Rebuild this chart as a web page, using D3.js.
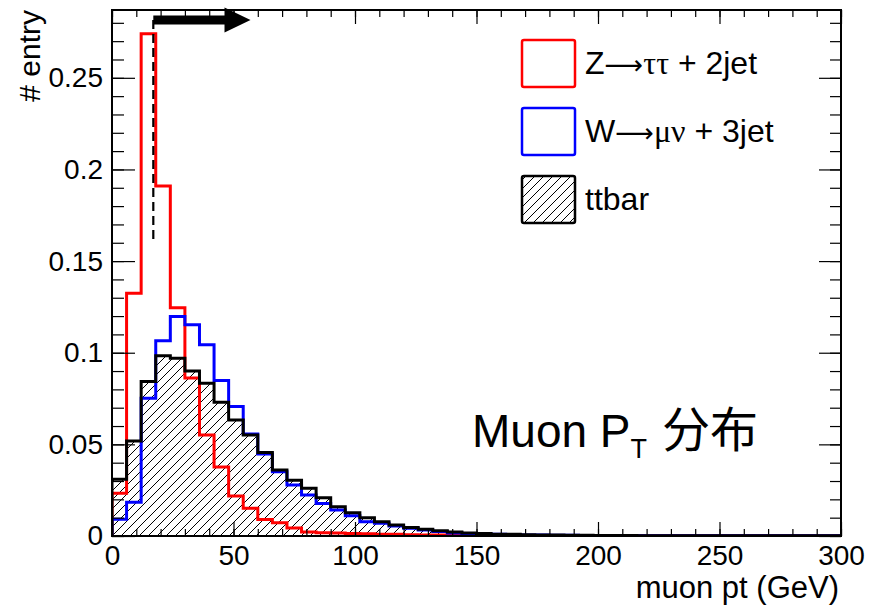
<!DOCTYPE html>
<html>
<head>
<meta charset="utf-8">
<script src="https://cdn.jsdelivr.net/npm/d3@7"></script>
<style>
  html, body { margin: 0; padding: 0; background: #fff; }
  svg { display: block; }
  text { font-family: "Liberation Sans", Arial, Helvetica, sans-serif; fill: #000; }
</style>
</head>
<body>
<svg id="chart" width="870" height="605"></svg>
<script>
// ---------- data ----------
const binWidth = 6;               // GeV
const xDomain = [0, 300];
const yDomain = [0, 0.287];
const xMajorTicks = [0, 50, 100, 150, 200, 250, 300];
const yMajorTicks = [0, 0.05, 0.1, 0.15, 0.2, 0.25];

const seriesNames = ["Z\u2192\u03c4\u03c4 + 2jet", "W\u2192\u03bc\u03bd + 3jet", "ttbar"];

const zTauTau = [0.0233, 0.1325, 0.274, 0.191, 0.1246, 0.0862, 0.0551, 0.0377, 0.0218, 0.0152,
  0.0090, 0.0072, 0.0043, 0.0022, 0.0018, 0.0016, 0.0014, 0.0012, 0.0010, 0.0009,
  0.0007, 0.0006, 0.0005, 0.0005, 0.0004, 0.0003, 0.0003, 0.0003, 0.0002, 0.0002,
  0.0002, 0.0002, 0.0001, 0.0001, 0.0001, 0.0001, 0.0001, 0.0001, 0.0001, 0.0001,
  0.0001, 0.0001, 0.0001, 0.0001, 0.0001, 0.0001, 0.0001, 0.0001, 0.0001, 0.0001];

const wMuNu = [0.0091, 0.0184, 0.0752, 0.1066, 0.1197, 0.1152, 0.1043, 0.0848, 0.0706, 0.0557,
  0.0448, 0.0351, 0.0278, 0.0224, 0.0178, 0.0142, 0.0110, 0.0078, 0.0069, 0.0055,
  0.0042, 0.0033, 0.0025, 0.0016, 0.0013, 0.0011, 0.0009, 0.0007, 0.0006, 0.0005,
  0.0004, 0.0004, 0.0003, 0.0003, 0.0003, 0.0002, 0.0002, 0.0002, 0.0002, 0.0002,
  0.0001, 0.0001, 0.0001, 0.0001, 0.0001, 0.0001, 0.0001, 0.0001, 0.0001, 0.0001];

const ttbar = [0.0310, 0.0519, 0.0843, 0.0983, 0.0970, 0.0900, 0.0833, 0.0730, 0.0633, 0.0551,
  0.0455, 0.0360, 0.0304, 0.0260, 0.0209, 0.0160, 0.0127, 0.0100, 0.0078, 0.0060,
  0.0047, 0.0037, 0.0029, 0.0022, 0.0016, 0.0013, 0.0010, 0.0009, 0.0007, 0.0006,
  0.0005, 0.0004, 0.0004, 0.0003, 0.0003, 0.0003, 0.0002, 0.0002, 0.0002, 0.0002,
  0.0002, 0.0001, 0.0001, 0.0001, 0.0001, 0.0001, 0.0001, 0.0001, 0.0001, 0.0001];

// cut marker (GeV / entry units)
const cutX = 17;
const cutArrowEnd = 57;
const cutArrowY = 0.2815;
const cutLineBottom = 0.16;

const xTitle = "muon pt (GeV)";
const yTitle = "# entry";

// ---------- layout ----------
const frame = { left: 112, right: 841, top: 10, bottom: 536 };
const svg = d3.select("#chart");

const x = d3.scaleLinear().domain(xDomain).range([frame.left, frame.right]);
const y = d3.scaleLinear().domain(yDomain).range([frame.bottom, frame.top]);

// hatch pattern
const defs = svg.append("defs");
const pat = defs.append("pattern").attr("id", "hatch")
  .attr("patternUnits", "userSpaceOnUse").attr("width", 9).attr("height", 9);
pat.append("path").attr("d", "M0,9 L9,0 M-1,1 L1,-1 M8,10 L10,8")
  .attr("stroke", "#000").attr("stroke-width", 1).attr("fill", "none");

defs.append("clipPath").attr("id", "clip").append("rect")
  .attr("x", frame.left).attr("y", frame.top)
  .attr("width", frame.right - frame.left).attr("height", frame.bottom - frame.top);

function stepPath(vals) {
  const p = d3.path();
  p.moveTo(x(0), y(0));
  vals.forEach((v, i) => {
    p.lineTo(x(i * binWidth), y(v));
    p.lineTo(x((i + 1) * binWidth), y(v));
  });
  p.lineTo(x(vals.length * binWidth), y(0));
  return p.toString();
}

const plot = svg.append("g").attr("clip-path", "url(#clip)");

// ttbar hatched fill
plot.append("path").attr("d", stepPath(ttbar) + "Z")
  .attr("fill", "url(#hatch)").attr("stroke", "none");

// red, blue outlines
plot.append("path").attr("d", stepPath(zTauTau))
  .attr("fill", "none").attr("stroke", "#ff0000").attr("stroke-width", 3);
plot.append("path").attr("d", stepPath(wMuNu))
  .attr("fill", "none").attr("stroke", "#0000ff").attr("stroke-width", 3);
// ttbar outline
plot.append("path").attr("d", stepPath(ttbar))
  .attr("fill", "none").attr("stroke", "#000").attr("stroke-width", 3);

// ---------- axes (ticks inward, ROOT style) ----------
const yFmt = d => d === 0 ? "0" : String(+d.toFixed(2));

svg.append("g").attr("transform", `translate(0,${frame.bottom})`)
  .call(d3.axisBottom(x).tickValues(xMajorTicks).tickSizeInner(-14).tickSizeOuter(0)
    .tickPadding(9).tickFormat(d3.format("d")));
svg.append("g").attr("transform", `translate(0,${frame.bottom})`)
  .call(d3.axisBottom(x).tickValues(d3.range(0, 301, 10)).tickSizeInner(-7).tickSizeOuter(0).tickFormat(""));
svg.append("g").attr("transform", `translate(0,${frame.top})`)
  .call(d3.axisTop(x).tickValues(xMajorTicks).tickSizeInner(-14).tickSizeOuter(0).tickFormat(""));
svg.append("g").attr("transform", `translate(0,${frame.top})`)
  .call(d3.axisTop(x).tickValues(d3.range(0, 301, 10)).tickSizeInner(-7).tickSizeOuter(0).tickFormat(""));

svg.append("g").attr("transform", `translate(${frame.left},0)`)
  .call(d3.axisLeft(y).tickValues(yMajorTicks).tickSizeInner(-23).tickSizeOuter(0)
    .tickPadding(9).tickFormat(yFmt));
svg.append("g").attr("transform", `translate(${frame.left},0)`)
  .call(d3.axisLeft(y).tickValues(d3.range(0, 0.2801, 0.01)).tickSizeInner(-12).tickSizeOuter(0).tickFormat(""));
svg.append("g").attr("transform", `translate(${frame.right},0)`)
  .call(d3.axisRight(y).tickValues(yMajorTicks).tickSizeInner(-22).tickSizeOuter(0).tickFormat(""));
svg.append("g").attr("transform", `translate(${frame.right},0)`)
  .call(d3.axisRight(y).tickValues(d3.range(0, 0.2801, 0.01)).tickSizeInner(-11).tickSizeOuter(0).tickFormat(""));

svg.selectAll(".domain").remove();
svg.selectAll(".tick line").attr("stroke", "#000").attr("stroke-width", 1.2);
svg.selectAll(".tick text").attr("font-family", "Liberation Sans, Arial, sans-serif")
  .attr("font-size", 28).attr("fill", "#000");

// frame
svg.append("rect").attr("x", frame.left).attr("y", frame.top)
  .attr("width", frame.right - frame.left).attr("height", frame.bottom - frame.top)
  .attr("fill", "none").attr("stroke", "#000").attr("stroke-width", 2);

// axis titles
svg.append("text").attr("x", 839).attr("y", 598).attr("text-anchor", "end")
  .attr("font-size", 31).text(xTitle);
svg.append("text").attr("transform", `translate(40,${frame.top}) rotate(-90)`)
  .attr("text-anchor", "end").attr("font-size", 30).text(yTitle);

// ---------- cut marker ----------
svg.append("line").attr("x1", x(cutX)).attr("x2", x(cutX))
  .attr("y1", y(cutArrowY)).attr("y2", y(cutLineBottom))
  .attr("stroke", "#000").attr("stroke-width", 2.2).attr("stroke-dasharray", "9,5");
{
  const x0 = x(cutX), x1 = x(cutArrowEnd), yc = y(cutArrowY);
  const shaft = 4.5, headH = 12.5, headL = 26;
  const pts = [[x0, yc - shaft], [x1 - headL, yc - shaft], [x1 - headL, yc - headH], [x1, yc],
    [x1 - headL, yc + headH], [x1 - headL, yc + shaft], [x0, yc + shaft]];
  svg.append("path").attr("d", d3.line()(pts) + "Z").attr("fill", "#000");
}

// ---------- legend ----------
const legend = svg.append("g");
const legendItems = [
  { name: seriesNames[0], stroke: "#ff0000", fill: "#fff", parts: [["Z", 0], ["\u27f6", 2], ["\u03c4\u03c4", 1], [" + 2jet", 0]] },
  { name: seriesNames[1], stroke: "#0000ff", fill: "#fff", parts: [["W", 0], ["\u27f6", 2], ["\u03bc\u03bd", 1], [" + 3jet", 0]] },
  { name: seriesNames[2], stroke: "#000", fill: "url(#hatch)", parts: [["ttbar", 0]] }
];
legendItems.forEach((it, i) => {
  const top = 40 + i * 68;
  legend.append("rect").attr("x", 522).attr("y", top).attr("width", 53).attr("height", 47)
    .attr("rx", 2).attr("fill", it.fill).attr("stroke", it.stroke).attr("stroke-width", 2.5);
  const t = legend.append("text").attr("x", 585).attr("y", top + 34).attr("font-size", 32);
  it.parts.forEach(([s, kind]) => {
    const ts = t.append("tspan").text(s);
    if (kind === 1) ts.attr("font-family", "Liberation Serif, Times New Roman, serif");
    if (kind === 2) ts.attr("font-family", "DejaVu Sans, sans-serif").attr("font-size", 27);
  });
});

// ---------- annotation ----------
const ann = svg.append("text").attr("x", 472).attr("y", 447).attr("font-size", 46);
ann.append("tspan").text("Muon P");
ann.append("tspan").attr("font-size", 27).attr("dy", 11).text("T");
ann.append("tspan").attr("dy", -11).attr("dx", 15).attr("font-size", 48)
  .attr("font-family", "Noto Sans CJK SC, sans-serif").text("分布");
</script>
</body>
</html>
